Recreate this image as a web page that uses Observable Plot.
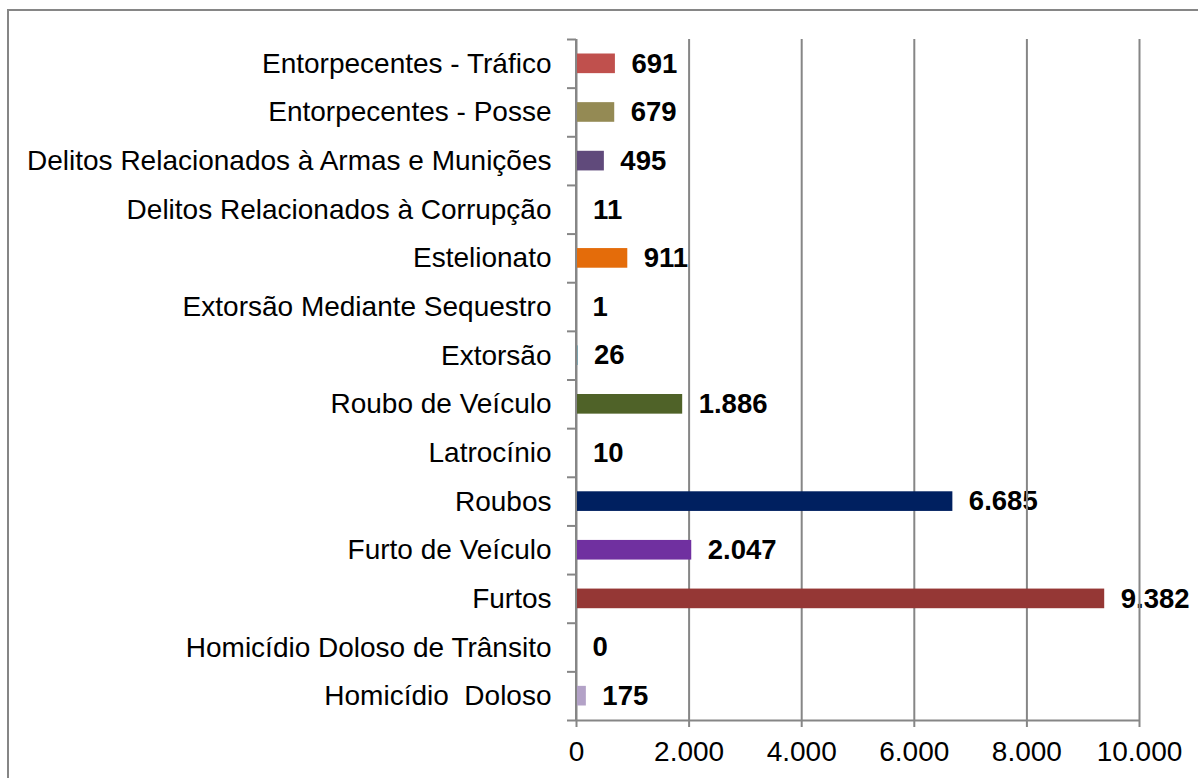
<!DOCTYPE html>
<html>
<head>
<meta charset="utf-8">
<script src="https://cdn.jsdelivr.net/npm/d3@7"></script>
<script src="https://cdn.jsdelivr.net/npm/@observablehq/plot@0.6"></script>
<style>
  html, body { margin: 0; padding: 0; background: #fff; overflow: hidden; width: 1198px; height: 778px; }
  #frame { position: absolute; left: 7px; top: 9px; width: 1400px; height: 1000px; border: 2px solid #868686; }
  #chart { position: absolute; left: 0; top: 0; }
  #chart svg text { white-space: pre; }
</style>
</head>
<body>
<div id="frame"></div>
<div id="chart"></div>
<script>
const categories = [
  "Entorpecentes - Tráfico",
  "Entorpecentes - Posse",
  "Delitos Relacionados à Armas e Munições",
  "Delitos Relacionados à Corrupção",
  "Estelionato",
  "Extorsão Mediante Sequestro",
  "Extorsão",
  "Roubo de Veículo",
  "Latrocínio",
  "Roubos",
  "Furto de Veículo",
  "Furtos",
  "Homicídio Doloso de Trânsito",
  "Homicídio  Doloso"
];
const values = [691, 679, 495, 11, 911, 1, 26, 1886, 10, 6685, 2047, 9382, 0, 175];
const colors = ["#C0504D", "#948A54", "#604A7B", "#4BACC6", "#E46C0A", "#1F497D", "#31859C",
                "#4F6228", "#C0504D", "#002060", "#7030A0", "#953735", "#4F81BD", "#B3A2C7"];
const xTicks = [0, 2000, 4000, 6000, 8000, 10000];

const data = categories.map((c, i) => ({category: c, i, value: values[i], color: colors[i]}));
const rowIndex = categories.map((c, i) => i);
const boundaries = [-0.5].concat(categories.map((c, i) => i + 0.5));

const fmt = d3.formatLocale({decimal: ",", thousands: ".", grouping: [3], currency: ["R$", ""]}).format(",d");
const grid = "#868686";

const chart = Plot.plot({
  width: 1198,
  height: 778,
  marginLeft: 576,
  marginRight: 59,
  marginTop: 39,
  marginBottom: 58,
  style: {fontFamily: "'Liberation Sans', Arial, sans-serif", fontSize: "28px", color: "#000", background: "transparent"},
  x: {domain: [0, 10000], label: null},
  y: {domain: [categories.length - 0.5, -0.5], label: null},
  color: {type: "identity"},
  marks: [
    Plot.text(data, {x: "value", y: "i", text: d => fmt(d.value), textAnchor: "start", dx: 16, fontWeight: "bold", fontSize: 27.5, fill: "#000"}),
    Plot.gridX(xTicks, {stroke: grid, strokeOpacity: 1, strokeWidth: 2}),
    Plot.ruleY([categories.length - 0.5], {stroke: grid, strokeWidth: 2}),
    Plot.axisX({ticks: xTicks, tickFormat: fmt, tickSize: 7, tickPadding: 14, stroke: grid, strokeWidth: 2, label: null, fill: "#000"}),
    Plot.axisY({ticks: boundaries, tickSize: 9, tickFormat: () => "", stroke: grid, strokeWidth: 2, label: null}),
    Plot.axisY({ticks: rowIndex, tickSize: 0, tickPadding: 25, tickFormat: i => categories[i], label: null, fill: "#000"}),
    Plot.rectX(data, {x1: 0, x2: "value", y1: d => d.i - 0.5, y2: d => d.i + 0.5, insetTop: 14.5, insetBottom: 14.5, fill: "color"}),
    Plot.ruleX([0], {stroke: grid, strokeWidth: 2, dx: -0.5})
  ]
});
document.getElementById("chart").appendChild(chart);
</script>
</body>
</html>
